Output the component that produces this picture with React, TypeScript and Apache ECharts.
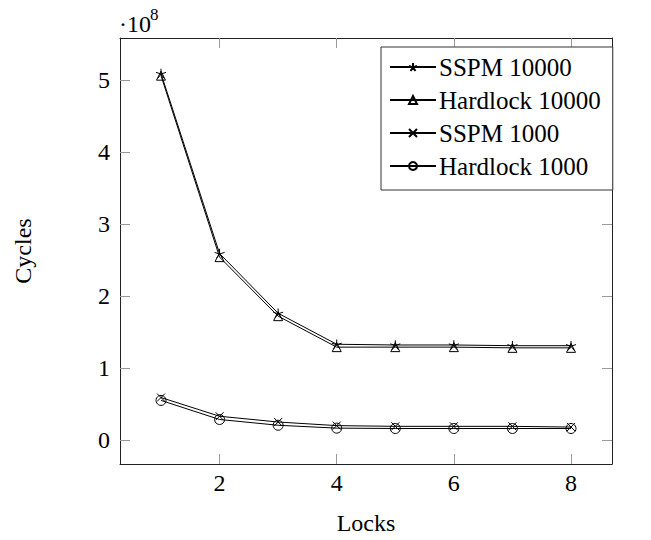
import React, { useEffect, useRef } from "react";
import * as echarts from "echarts";

const locks = [1, 2, 3, 4, 5, 6, 7, 8];
const sspm10000 = [5.09, 2.59, 1.76, 1.33, 1.32, 1.32, 1.31, 1.31];
const hardlock10000 = [5.06, 2.54, 1.72, 1.29, 1.29, 1.29, 1.28, 1.28];
const sspm1000 = [0.59, 0.33, 0.25, 0.2, 0.19, 0.19, 0.19, 0.18];
const hardlock1000 = [0.55, 0.285, 0.205, 0.165, 0.16, 0.16, 0.16, 0.16];
const xTicks = [2, 4, 6, 8];
const yTicks = [0, 1, 2, 3, 4, 5];
const seriesNames = ["SSPM 10000", "Hardlock 10000", "SSPM 1000", "Hardlock 1000"];

const FONT = "Liberation Serif, Times New Roman, serif";
const STAR =
  "path://M0,0 L0,-100 M0,0 L-95.1,-30.9 M0,0 L-58.8,80.9 M0,0 L58.8,80.9 M0,0 L95.1,-30.9";
const CROSS = "path://M0,0 L10,10 M10,0 L0,10";

export default function App() {
  const ref = useRef<HTMLDivElement>(null);
  useEffect(() => {
    document.body.style.margin = "0";
    if (!ref.current) return;
    const chart = echarts.init(ref.current, null, { renderer: "svg" });
    const mk = (name: string, data: number[], symbol: string, size: number) => ({
      name,
      type: "line",
      data: locks.map((x, i) => [x, data[i]]),
      symbol,
      symbolSize: size,
      symbolKeepAspect: true,
      showAllSymbol: true,
      lineStyle: { color: "#000", width: 1 },
      itemStyle: { color: "rgba(0,0,0,0)", borderColor: "#000", borderWidth: 1 },
      emphasis: { disabled: true },
      xAxisIndex: 0,
      yAxisIndex: 0,
      z: 3,
    });
    const tickStyle = { show: true, inside: true, length: 10, lineStyle: { color: "#999", width: 1 } };
    const lineStyle = { show: true, onZero: false, lineStyle: { color: "#222", width: 1 } };
    const xMin = 0.3, xMax = 8.7, yMin = -0.333, yMax = 5.583;
    chart.setOption({
      animation: false,
      backgroundColor: "#fff",
      textStyle: { fontFamily: FONT },
      grid: { left: 120, right: 39, top: 38, bottom: 72, containLabel: false },
      legend: {
        orient: "vertical",
        left: 381,
        top: 47,
        padding: [7, 12, 11, 8],
        itemGap: 7,
        itemWidth: 46,
        itemHeight: 10,
        backgroundColor: "#fff",
        borderColor: "#333",
        borderWidth: 1,
        borderRadius: 0,
        data: seriesNames,
        textStyle: { fontFamily: FONT, fontSize: 25, color: "#000", lineHeight: 26, padding: [0, 0, 0, -2] },
      },
      xAxis: [
        {
          type: "value",
          min: xMin,
          max: xMax,
          name: "Locks",
          nameLocation: "middle",
          nameGap: 47,
          nameTextStyle: { fontFamily: FONT, fontSize: 24, color: "#000" },
          axisLine: lineStyle,
          axisTick: { ...tickStyle, customValues: xTicks },
          axisLabel: { customValues: xTicks, fontFamily: FONT, fontSize: 24, color: "#000", margin: 7 },
          splitLine: { show: false },
        },
        {
          type: "value",
          position: "top",
          min: xMin,
          max: xMax,
          axisLine: lineStyle,
          axisTick: { ...tickStyle, customValues: xTicks },
          axisLabel: { show: false },
          splitLine: { show: false },
        },
      ],
      yAxis: [
        {
          type: "value",
          min: yMin,
          max: yMax,
          name: "Cycles",
          nameLocation: "middle",
          nameGap: 85,
          nameRotate: 90,
          nameTextStyle: { fontFamily: FONT, fontSize: 24, color: "#000" },
          axisLine: lineStyle,
          axisTick: { ...tickStyle, customValues: yTicks },
          axisLabel: { customValues: yTicks, fontFamily: FONT, fontSize: 24, color: "#000", margin: 10 },
          splitLine: { show: false },
        },
        {
          type: "value",
          position: "right",
          min: yMin,
          max: yMax,
          axisLine: lineStyle,
          axisTick: { ...tickStyle, customValues: yTicks },
          axisLabel: { show: false },
          splitLine: { show: false },
        },
      ],
      graphic: [
        {
          type: "text",
          left: 119,
          top: 12,
          style: { text: "·10", fontFamily: FONT, fontSize: 24, fill: "#000" },
        },
        {
          type: "text",
          left: 150,
          top: 6,
          style: { text: "8", fontFamily: FONT, fontSize: 17, fill: "#000" },
        },
      ],
      series: [
        mk(seriesNames[0], sspm10000, STAR, 10),
        mk(seriesNames[1], hardlock10000, "triangle", 9),
        mk(seriesNames[2], sspm1000, CROSS, 8),
        mk(seriesNames[3], hardlock1000, "circle", 10),
      ],
    });
    return () => chart.dispose();
  }, []);
  return <div ref={ref} style={{ width: 651, height: 540 }} />;
}
